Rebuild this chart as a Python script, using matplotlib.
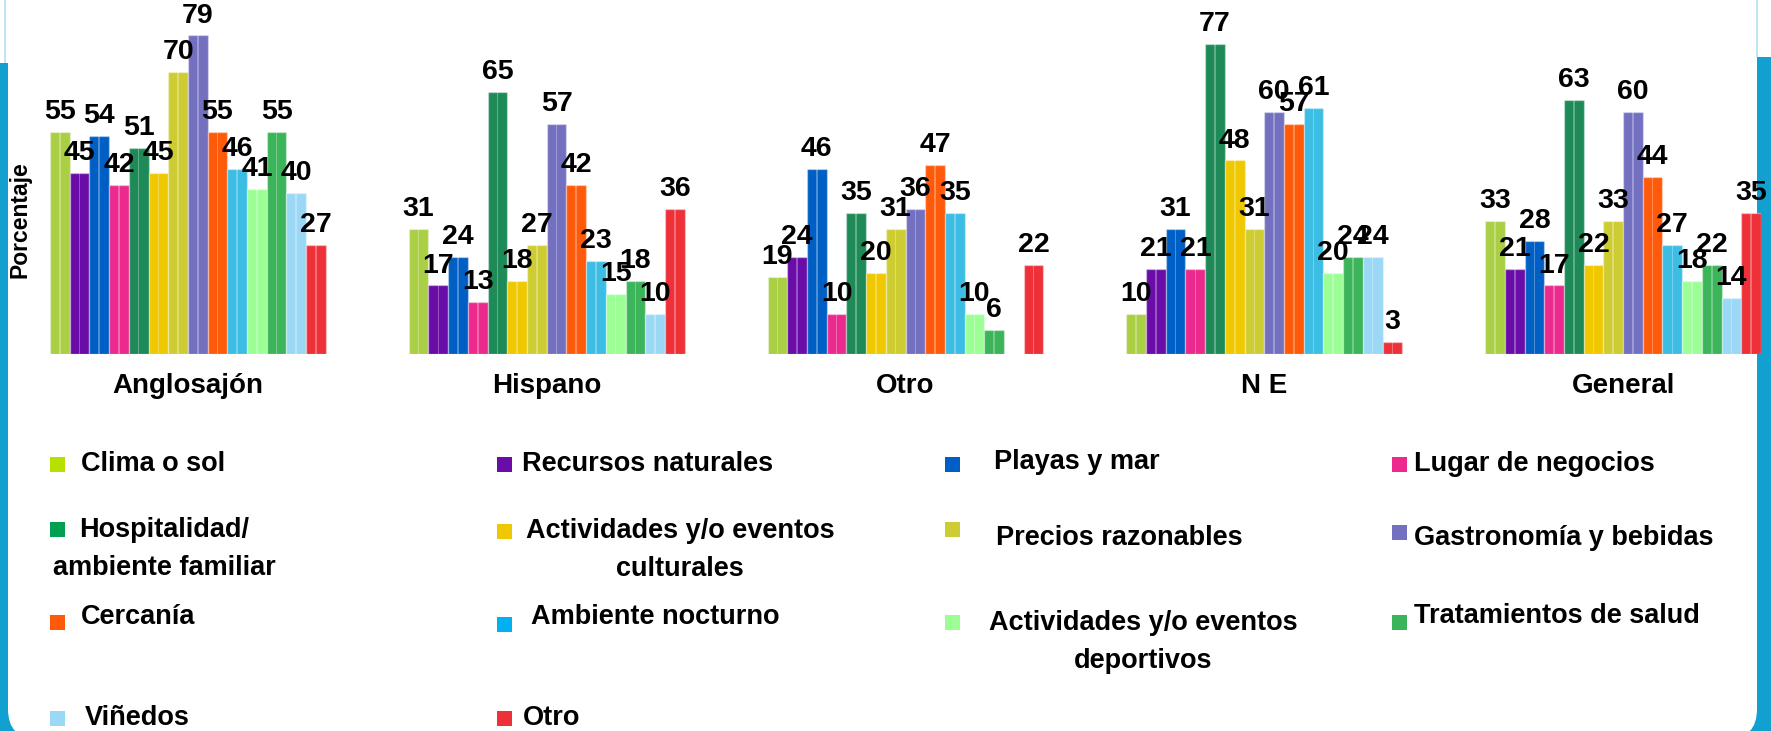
import numpy as np
import matplotlib
matplotlib.use("Agg")
import matplotlib.pyplot as plt
from matplotlib.patches import Rectangle, FancyBboxPatch
from matplotlib.transforms import IdentityTransform

plt.rcParams['font.family'] = ['Liberation Sans', 'DejaVu Sans']
plt.rcParams['font.weight'] = 'bold'

# ---------------- data ----------------
groups = ["Anglosajón", "Hispano", "Otro", "N E", "General"]
categories = [
    "Clima o sol", "Recursos naturales", "Playas y mar", "Lugar de negocios",
    "Hospitalidad/\nambiente familiar", "Actividades y/o eventos\nculturales",
    "Precios razonables", "Gastronomía y bebidas", "Cercanía", "Ambiente nocturno",
    "Actividades y/o eventos\ndeportivos", "Tratamientos de salud", "Viñedos", "Otro",
]
anglosajon = [55, 45, 54, 42, 51, 45, 70, 79, 55, 46, 41, 55, 40, 27]
hispano    = [31, 17, 24, 13, 65, 18, 27, 57, 42, 23, 15, 18, 10, 36]
otro       = [19, 24, 46, 10, 35, 20, 31, 36, 47, 35, 10, 6, np.nan, 22]
ne         = [10, 21, 31, 21, 77, 48, 31, 60, 57, 61, 20, 24, 24, 3]
general    = [33, 21, 28, 17, 63, 22, 33, 60, 44, 27, 18, 22, 14, 35]
values = [anglosajon, hispano, otro, ne, general]

colors = ["#AACE44", "#6A0DA8", "#005FC4", "#EC2A8E", "#1E8A58", "#F0C800",
          "#CDCD33", "#7470C0", "#FF5A0A", "#3CBDE4", "#9CFF96", "#3CB45A",
          "#9AD8F6", "#EE3038"]
legend_colors = ["#B5E000", "#6A0DA8", "#005FC4", "#EC2A8E", "#00A050", "#F0C800",
                 "#CDCD33", "#7470C0", "#FF5A0A", "#00B0F0", "#9CFF96", "#3CB45A",
                 "#9AD8F6", "#EE3038"]

# ---------------- layout ----------------
W, H = 1771, 731
fig = plt.figure(figsize=(W / 100, H / 100), dpi=100)
fig.patch.set_facecolor("white")

def fx(px):
    return px / W

def fy(py):
    return 1 - py / H

# slide border
border = "#12A0D0"
fig.add_artist(Rectangle((0, 0), W, H - 63, transform=IdentityTransform(),
                         facecolor=border, edgecolor="none", zorder=0))
fig.add_artist(Rectangle((1757, 0), 14, H - 57, transform=IdentityTransform(),
                         facecolor=border, edgecolor="none", zorder=0))
r = 30
fig.add_artist(FancyBboxPatch((8 + r, -8 + r), 1757 - 8 - 2 * r, H + 200,
                              boxstyle=f"round,pad={r}", transform=IdentityTransform(),
                              facecolor="white", edgecolor="none", zorder=0.5))
fig.add_artist(Rectangle((4, H - 63), 2, 63, transform=IdentityTransform(),
                         facecolor="#BFE4F3", edgecolor="none", zorder=0.6))
fig.add_artist(Rectangle((1756, H - 57), 2, 57, transform=IdentityTransform(),
                         facecolor="#BFE4F3", edgecolor="none", zorder=0.6))

ax_left, ax_right, base_y = 50, 1761, 354
ax = fig.add_axes([fx(ax_left), fy(base_y), fx(ax_right - ax_left), base_y / H])
ax.set_zorder(2)
ax.patch.set_visible(False)

ncat = len(categories)
step = 18.21
for g, vals in enumerate(values):
    x = g * step + np.arange(ncat) + 0.5
    v = np.array(vals, dtype=float)
    ok = ~np.isnan(v)
    ax.bar(x[ok], v[ok], width=1.0, color=np.array(colors)[ok],
           edgecolor=(1, 1, 1, 0.35), linewidth=1.0, zorder=2)
    ax.bar(x[ok], v[ok], width=0.08, color="white", alpha=0.3, linewidth=0, zorder=3)
    for xi, vi in zip(x[ok], v[ok]):
        ax.annotate(f"{vi:.0f}", (xi, vi), xytext=(0, 5), textcoords="offset points",
                    ha="center", va="bottom", fontsize=20.5, fontweight="bold",
                    color="black", zorder=4, annotation_clip=False)

ax.set_xlim(0, 4 * step + ncat)
ax.set_ylim(0, 87.8)
ax.set_xticks([g * step + ncat / 2 for g in range(len(groups))])
ax.set_xticklabels(groups, fontsize=20, fontweight="bold")
ax.tick_params(axis="x", length=0, pad=14)
ax.set_yticks([])
for s in ax.spines.values():
    s.set_visible(False)

fig.text(fx(20), fy(220), "Porcentaje", rotation=90, ha="center", va="center",
         fontsize=16.5, fontweight="bold", zorder=3)

# legend layout: (square x, square center y, text x, text center y)
leg_pos = [
    (50, 464, 81, 464), (497, 464, 522, 464), (945, 464, 994, 462), (1392, 464, 1414, 464),
    (50, 529, 53, 549), (497, 531, 526, 550), (945, 529, 996, 538), (1392, 532, 1414, 538),
    (50, 622, 81, 617), (497, 624, 531, 617), (945, 622, 989, 642), (1392, 622, 1414, 616),
    (50, 718, 85, 718), (497, 718, 523, 718),
]
sq = 15
for (sx, sy, tx, ty), lab, c in zip(leg_pos, categories, legend_colors):
    fig.add_artist(Rectangle((sx, H - sy - sq / 2), sq, sq, transform=IdentityTransform(),
                             facecolor=c, edgecolor="none", zorder=3))
    fig.text(fx(tx), fy(ty), lab, ha="left", va="center", multialignment="center",
             fontsize=19.5, fontweight="bold", linespacing=1.6, zorder=3)

fig.savefig("out.png", dpi=100, facecolor="white")
